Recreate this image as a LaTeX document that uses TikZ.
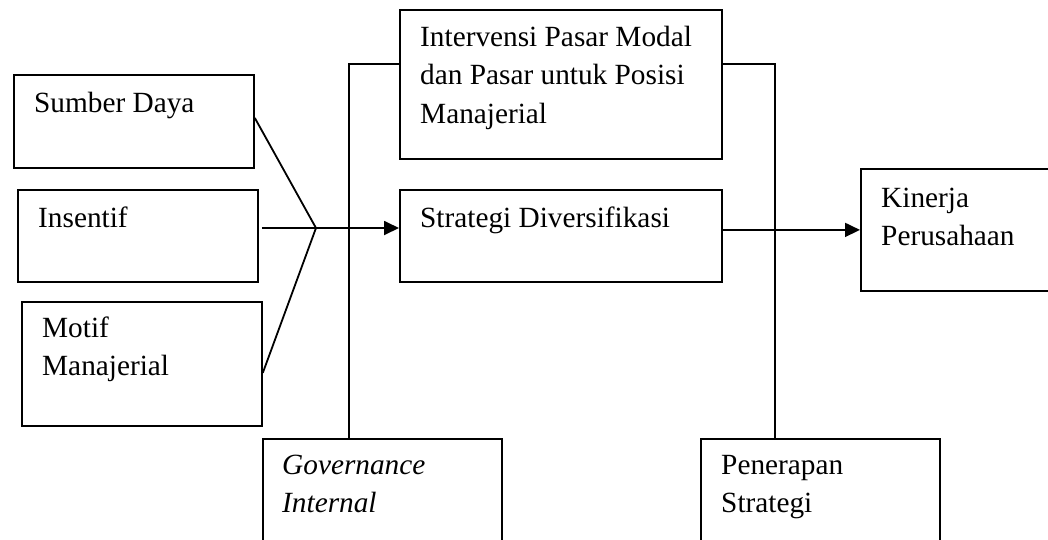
\documentclass[tikz,border=0pt]{standalone}
\usepackage{fontspec}
\setmainfont{Liberation Serif}
\usepackage{tikz}
\usetikzlibrary{arrows.meta, positioning, calc}

\begin{document}
\begin{tikzpicture}[
    x=1pt, y=-1pt,
    box/.style={rectangle, draw=black, line width=1.8pt, inner sep=0pt, anchor=north west},
    txt/.style={anchor=north west, inner sep=0pt, text width=300pt, align=flush left, font=\fontsize{29.3pt}{38.5pt}\selectfont, execute at begin node=\strut},
    conn/.style={line width=1.8pt},
    arr/.style={-{Triangle[length=15pt, width=14pt]}, line width=1.8pt}]
\useasboundingbox (0,0) rectangle (1048,539);
\node[box, minimum width=240pt, minimum height=93pt] (sumber) at (13,74) {};
\node[box, minimum width=240pt, minimum height=92pt] (insentif) at (17,189) {};
\node[box, minimum width=240pt, minimum height=124pt] (motif) at (21,301) {};
\node[box, minimum width=322pt, minimum height=149pt] (intervensi) at (399,9) {};
\node[box, minimum width=322pt, minimum height=92pt] (strategi) at (399,189) {};
\node[box, minimum width=200pt, minimum height=122pt] (kinerja) at (860,168) {};
\node[box, minimum width=239pt, minimum height=130pt] (governance) at (262,438) {};
\node[box, minimum width=239pt, minimum height=130pt] (penerapan) at (700,438) {};
% teks di dalam kotak (strut: garis dasar baris pertama 27pt di bawah puncak)
\node[txt] (sumber-t) at ([shift={(21pt,-11pt)}]sumber.north west) {Sumber Daya};
\node[txt] (insentif-t) at ([shift={(21pt,-11pt)}]insentif.north west) {Insentif};
\node[txt] (motif-t) at ([shift={(21pt,-9pt)}]motif.north west) {Motif\\Manajerial};
\node[txt] (intervensi-t) at ([shift={(21pt,-10pt)}]intervensi.north west) {Intervensi Pasar Modal\\dan Pasar untuk Posisi\\Manajerial};
\node[txt] (strategi-t) at ([shift={(21pt,-11pt)}]strategi.north west) {Strategi Diversifikasi};
\node[txt] (kinerja-t) at ([shift={(21pt,-12pt)}]kinerja.north west) {Kinerja\\Perusahaan};
\node[txt] (governance-t) at ([shift={(20pt,-9pt)}]governance.north west) {\textit{Governance}\\\textit{Internal}};
\node[txt] (penerapan-t) at ([shift={(21pt,-9pt)}]penerapan.north west) {Penerapan\\Strategi};
% garis penghubung
\coordinate (fan) at (316,228);
\draw[conn] ([yshift=3.5pt]sumber.east) -- (fan);
\draw[conn] ([xshift=3pt]insentif.east |- fan) -- (fan);
\draw[conn] ([yshift=-9pt]motif.east) -- (fan);
\draw[arr] (fan) -- (fan -| strategi.west);
\draw[arr] (strategi.east |- kinerja.west) -- (kinerja.west);
\draw[conn] ([yshift=20.5pt]intervensi.west) -| ([xshift=-33.5pt]governance.north);
\draw[conn] ([yshift=20.5pt]intervensi.east) -| ([xshift=-45.5pt]penerapan.north);
\end{tikzpicture}
\end{document}
